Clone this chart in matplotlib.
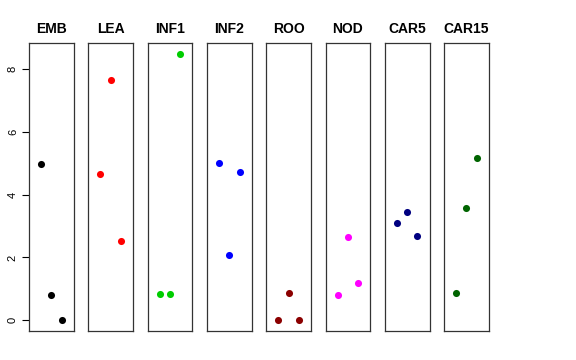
import numpy as np
import matplotlib.pyplot as plt

plt.rcParams['font.family'] = ['Liberation Sans', 'DejaVu Sans']

# tissues and their three replicate values
tissues = ['EMB', 'LEA', 'INF1', 'INF2', 'ROO', 'NOD', 'CAR5', 'CAR15']
values = {
    'EMB':   [4.96, 0.80, 0.00],
    'LEA':   [4.66, 7.63, 2.51],
    'INF1':  [0.85, 0.83, 8.48],
    'INF2':  [4.99, 2.08, 4.72],
    'ROO':   [0.00, 0.86, 0.00],
    'NOD':   [0.82, 2.64, 1.19],
    'CAR5':  [3.10, 3.46, 2.68],
    'CAR15': [0.86, 3.56, 5.15],
}
colors = ['black', 'red', '#00CD00', 'blue', '#8B0000', 'magenta', '#000080', '#006400']
reps = [1, 2, 3]

W, H = 576, 360
fig = plt.figure(figsize=(W / 100, H / 100), dpi=100)

left0 = 29
step = 59.3
pw = 44.7
top, bottom = 43, 331

allv = np.concatenate([values[t] for t in tissues])
ymin, ymax = allv.min(), allv.max()
pad = 0.04 * (ymax - ymin)

for i, (t, c) in enumerate(zip(tissues, colors)):
    x0 = left0 + i * step
    ax = fig.add_axes([x0 / W, (H - bottom) / H, pw / W, (bottom - top) / H])
    ax.scatter(reps, values[t], s=26, color=c, zorder=3, linewidths=0)
    ax.set_xlim(-0.16, 4.16)
    ax.set_ylim(ymin - pad, ymax + pad)
    ax.set_xticks([])
    for sp in ax.spines.values():
        sp.set_color('#333333')
        sp.set_linewidth(0.9)
    ax.set_title(t, fontsize=10, fontweight='bold', pad=7)
    if i == 0:
        ax.set_yticks([0, 2, 4, 6, 8])
        ax.tick_params(axis='y', length=5, width=0.8, labelsize=8, pad=3)
        for lab in ax.get_yticklabels():
            lab.set_rotation(90)
            lab.set_va('center')
    else:
        ax.set_yticks([])

fig.savefig('out.png', dpi=100)
